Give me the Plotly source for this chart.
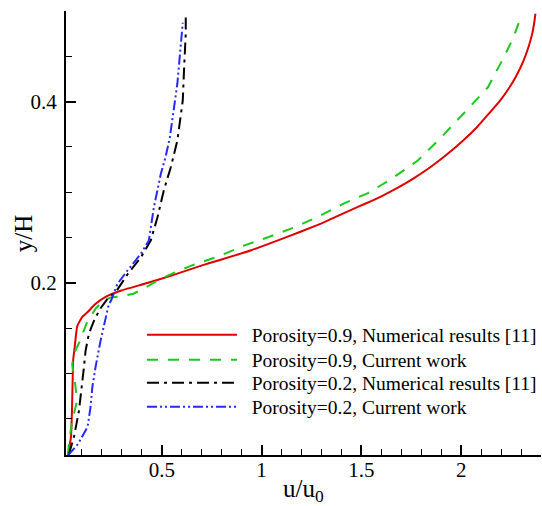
import plotly.graph_objects as go

# Velocity profiles u/u0 against height y/H
red_x = [0.03, 0.045, 0.05, 0.053, 0.056, 0.064, 0.076, 0.10, 0.13, 0.164, 0.214, 0.297, 0.414,
         0.548, 0.698, 0.782, 0.948, 1.115, 1.282, 1.349, 1.449, 1.516, 1.6, 1.683, 1.76, 1.845, 1.925,
         2.01, 2.08, 2.14, 2.195, 2.24, 2.28, 2.312, 2.337, 2.356, 2.368, 2.372]
red_y = [0.0095, 0.03, 0.06, 0.09, 0.115, 0.13, 0.152, 0.162, 0.168, 0.176, 0.184, 0.1915, 0.199,
         0.208, 0.219, 0.2246, 0.236, 0.2496, 0.264, 0.2706, 0.2805, 0.287, 0.2955, 0.305, 0.315, 0.3275,
         0.341, 0.357, 0.372, 0.387, 0.401, 0.415, 0.43, 0.445, 0.46, 0.475, 0.49, 0.497]

green_x = [0.03, 0.034, 0.051, 0.065, 0.076, 0.065, 0.051, 0.06, 0.084, 0.126, 0.17, 0.21, 0.25,
           0.29, 0.358, 0.42, 0.49, 0.56, 0.648, 0.782, 0.915, 1.032, 1.165, 1.282, 1.416, 1.533,
           1.65, 1.783, 1.9, 2.017, 2.134, 2.2, 2.245, 2.272, 2.29]
green_y = [0.01, 0.022, 0.048, 0.06, 0.07, 0.09, 0.11, 0.122, 0.133, 0.157, 0.172, 0.181, 0.184,
           0.185, 0.188, 0.195, 0.204, 0.211, 0.219, 0.229, 0.2413, 0.2503, 0.2613, 0.273, 0.288, 0.299,
           0.3147, 0.335, 0.3606, 0.388, 0.4158, 0.4433, 0.463, 0.477, 0.488]

black_x = [0.035, 0.06, 0.085, 0.10, 0.11, 0.118, 0.135, 0.16, 0.19, 0.23, 0.27, 0.33, 0.395,
           0.445, 0.478, 0.51, 0.545, 0.578, 0.598, 0.605, 0.612, 0.62, 0.62]
black_y = [0.011, 0.03, 0.059, 0.085, 0.107, 0.125, 0.144, 0.158, 0.171, 0.183, 0.19, 0.21, 0.228,
           0.247, 0.272, 0.302, 0.3275, 0.357, 0.39, 0.401, 0.438, 0.475, 0.497]

blue_x = [0.03, 0.08, 0.128, 0.143, 0.152, 0.168, 0.193, 0.218, 0.235, 0.245, 0.278, 0.328, 0.395,
          0.435, 0.46, 0.495, 0.52, 0.54, 0.578, 0.605]
blue_y = [0.0095, 0.022, 0.041, 0.063, 0.085, 0.107, 0.136, 0.162, 0.177, 0.18, 0.199, 0.2136, 0.232,
          0.2467, 0.283, 0.32, 0.34, 0.36, 0.42, 0.487]

names = [
    "Porosity=0.9, Numerical results [11]",
    "Porosity=0.9, Current work",
    "Porosity=0.2, Numerical results [11]",
    "Porosity=0.2, Current work",
]

FONT = "Liberation Serif"
GAP = "\u00a0\u00a0"  # small gap between legend sample and label

series = [
    (red_x, red_y, dict(color="rgb(220,0,0)", width=2, shape="spline", smoothing=0.4)),
    (green_x, green_y, dict(color="rgb(30,200,30)", width=2, dash="11px,10px")),
    (black_x, black_y, dict(color="black", width=2, dash="12px,5px,3px,5px")),
    (blue_x, blue_y, dict(color="rgb(40,40,255)", width=2, dash="10px,3px,2px,3px,2px,3px")),
]
legend_ids = ["legend", "legend2", "legend3", "legend4"]
legend_rows = [0.270, 0.214, 0.162, 0.108]  # vertical centre of each legend entry (paper units)

fig = go.Figure()
for (xs, ys, line), name, lid in zip(series, names, legend_ids):
    fig.add_trace(go.Scatter(x=xs, y=ys, mode="lines", name=GAP + name,
                             line=line, legend=lid))

legend_style = dict(x=0.16, xanchor="left", yanchor="middle",
                    bgcolor="rgba(255,255,255,0)", itemwidth=90,
                    font=dict(family=FONT, size=19.5))
fig.update_layout(
    width=542, height=506,
    margin=dict(l=66, r=1, t=11, b=51, autoexpand=False),
    paper_bgcolor="white", plot_bgcolor="white",
    font=dict(family=FONT, size=19, color="black"),
    showlegend=True,
    **{lid: dict(y=yv, **legend_style) for lid, yv in zip(legend_ids, legend_rows)},
    annotations=[
        dict(text="y/H", xref="paper", yref="paper", x=-0.09, y=0.5,
             textangle=-90, showarrow=False, xanchor="center", yanchor="middle",
             font=dict(family=FONT, size=25)),
        dict(text="u/u<sub>0</sub>", xref="paper", yref="paper", x=0.5, y=-0.079,
             showarrow=False, xanchor="center", yanchor="middle",
             font=dict(family=FONT, size=25)),
    ],
)
fig.update_xaxes(
    range=[0.02, 2.4], tick0=0, dtick=0.5,
    showgrid=False, zeroline=False,
    showline=True, linecolor="black", linewidth=2,
    ticks="inside", ticklen=10, tickwidth=2, tickcolor="black",
    minor=dict(dtick=0.1, ticks="inside", ticklen=6, tickwidth=1, tickcolor="black"),
    tickfont=dict(family=FONT, size=21), ticklabelstandoff=-5,
)
fig.update_yaxes(
    range=[0.01, 0.5], tick0=0, dtick=0.2,
    showgrid=False, zeroline=False,
    showline=True, linecolor="black", linewidth=2,
    ticks="inside", ticklen=10, tickwidth=2, tickcolor="black",
    minor=dict(dtick=0.05, ticks="inside", ticklen=6, tickwidth=1, tickcolor="black"),
    tickfont=dict(family=FONT, size=21), ticklabelstandoff=3,
)

fig.write_html("out.html")
